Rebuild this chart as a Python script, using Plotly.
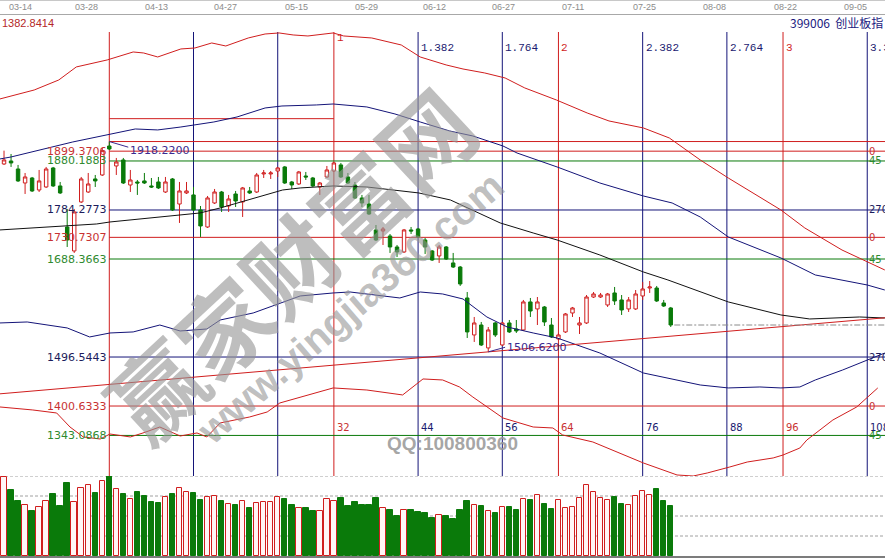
import plotly.graph_objects as go

# ---------------- daily bars (index 0 = swing-high day) ----------------
BAR_INDEX = list(range(-15, 81))
OPEN = [1874.3, 1880.2, 1864.5, 1837.1, 1846.9, 1823.4, 1829.3, 1866.5, 1831.3, 1751.0,
        1704.1, 1800.0, 1819.5, 1845.0, 1852.8, 1909.5, 1870.4, 1882.2, 1833.2, 1839.1,
        1841.1, 1831.3, 1839.1, 1819.5, 1845.0, 1796.0, 1817.6, 1813.7, 1784.3, 1751.0,
        1798.0, 1819.5, 1792.1, 1815.6, 1800.0, 1821.5, 1819.5, 1854.8, 1854.8, 1860.6,
        1868.5, 1839.1, 1835.2, 1850.8, 1846.9, 1829.3, 1848.9, 1860.6, 1872.4, 1848.9,
        1833.2, 1807.8, 1796.0, 1745.2, 1743.2, 1733.4, 1711.9, 1702.1, 1745.2, 1747.1,
        1725.6, 1704.1, 1694.3, 1711.9, 1680.6, 1672.7, 1612.1, 1539.7, 1559.2, 1514.3,
        1563.2, 1520.1, 1563.2, 1551.4, 1549.5, 1604.3, 1590.6, 1594.5, 1559.2, 1531.9,
        1545.6, 1582.7, 1559.2, 1563.2, 1614.0, 1614.0, 1598.4, 1621.9, 1608.2, 1590.6,
        1590.6, 1616.0, 1631.6, 1631.6, 1602.3, 1592.5]
HIGH = [1900.4, 1893.9, 1872.4, 1856.7, 1848.9, 1862.6, 1868.5, 1868.5, 1839.1, 1786.3,
        1786.3, 1848.9, 1856.7, 1852.8, 1905.6, 1918.22, 1886.1, 1886.1, 1862.6, 1843.0,
        1856.7, 1846.9, 1848.9, 1848.9, 1846.9, 1839.1, 1839.1, 1829.3, 1792.1, 1811.7,
        1825.4, 1821.5, 1813.7, 1821.5, 1829.3, 1829.3, 1856.7, 1862.6, 1860.6, 1868.5,
        1870.4, 1841.1, 1860.6, 1858.7, 1848.9, 1839.1, 1870.4, 1878.2, 1876.3, 1856.7,
        1839.1, 1813.7, 1813.7, 1754.9, 1751.0, 1737.3, 1715.8, 1747.1, 1751.0, 1749.1,
        1729.5, 1706.0, 1715.8, 1713.8, 1700.2, 1674.7, 1623.8, 1574.9, 1565.1, 1555.3,
        1565.1, 1565.1, 1569.0, 1569.0, 1608.2, 1612.1, 1614.0, 1596.4, 1572.9, 1543.6,
        1582.7, 1594.5, 1574.9, 1617.9, 1623.8, 1621.9, 1621.9, 1633.6, 1617.9, 1614.0,
        1627.7, 1643.4, 1645.3, 1635.6, 1608.2, 1594.5]
LOW = [1872.4, 1868.5, 1839.1, 1815.6, 1819.5, 1819.5, 1827.4, 1829.3, 1815.6, 1711.9,
       1700.2, 1798.0, 1817.6, 1829.3, 1850.8, 1901.7, 1852.8, 1835.2, 1819.5, 1813.7,
       1835.2, 1827.4, 1825.4, 1817.6, 1782.3, 1758.9, 1815.6, 1782.3, 1731.5, 1749.1,
       1796.0, 1780.4, 1780.4, 1790.2, 1770.6, 1815.6, 1817.6, 1846.9, 1845.0, 1848.9,
       1835.2, 1825.4, 1833.2, 1843.0, 1829.3, 1813.7, 1846.9, 1858.7, 1846.9, 1835.2,
       1805.8, 1790.2, 1774.5, 1723.6, 1715.8, 1700.2, 1692.3, 1700.2, 1737.3, 1729.5,
       1698.2, 1684.5, 1680.6, 1686.4, 1670.8, 1635.6, 1533.8, 1526.0, 1518.1, 1506.62,
       1535.8, 1518.1, 1543.6, 1543.6, 1547.5, 1574.9, 1559.2, 1557.3, 1533.8, 1529.8,
       1543.6, 1574.9, 1541.6, 1561.2, 1612.1, 1612.1, 1594.5, 1598.4, 1578.8, 1584.7,
       1588.6, 1608.2, 1621.9, 1604.3, 1594.5, 1555.3]
CLOSE = [1882.2, 1876.3, 1841.1, 1848.9, 1821.5, 1841.1, 1864.5, 1831.3, 1817.6, 1725.6,
         1780.4, 1845.0, 1835.2, 1841.1, 1900.4, 1903.7, 1878.2, 1837.1, 1843.0, 1837.1,
         1837.1, 1829.3, 1827.4, 1839.1, 1784.3, 1821.5, 1821.5, 1784.3, 1753.0, 1807.8,
         1819.5, 1790.2, 1805.8, 1801.9, 1827.4, 1817.6, 1852.8, 1856.7, 1856.7, 1866.5,
         1837.1, 1833.2, 1858.7, 1848.9, 1831.3, 1837.1, 1862.6, 1876.3, 1848.9, 1837.1,
         1807.8, 1798.0, 1776.5, 1725.6, 1747.1, 1711.9, 1702.1, 1745.2, 1743.2, 1731.5,
         1711.9, 1686.4, 1711.9, 1688.4, 1672.7, 1639.5, 1545.6, 1563.2, 1520.1, 1549.5,
         1539.7, 1563.2, 1545.6, 1547.5, 1604.3, 1586.6, 1604.3, 1565.1, 1535.8, 1539.7,
         1580.8, 1592.5, 1563.2, 1614.0, 1619.9, 1617.9, 1619.9, 1606.2, 1588.6, 1608.2,
         1619.9, 1629.7, 1633.6, 1606.2, 1596.4, 1559.2]
VOLUME = [79, 66, 55, 51, 45, 49, 55, 62, 50, 73, 54, 68, 71, 63, 75, 80,
          67, 62, 57, 64, 60, 54, 53, 59, 62, 68, 64, 63, 56, 59, 60, 55,
          52, 51, 55, 48, 53, 54, 54, 59, 57, 51, 48, 48, 45, 45, 57, 55,
          58, 50, 54, 51, 51, 58, 48, 46, 40, 46, 46, 44, 43, 38, 41, 40,
          37, 46, 55, 51, 50, 45, 43, 49, 49, 46, 57, 56, 61, 52, 47, 56,
          48, 49, 58, 71, 64, 58, 56, 59, 52, 51, 60, 65, 61, 67, 55, 50]

SWING_HIGH = (0, 1918.22)
SWING_LOW = (54, 1506.62)
BOX_TOP = 1963.0

# ---------------- indicator curves (bar index, price) ----------------
UPPER_RED_X = [-15.6, -10.7, -7.2, -4.7, -0.3, 3.4, 4.9, 6.9, 10.2, 12.2, 14.6, 16.6, 19.8,
               22.2, 24.2, 26.2, 28.3, 31.9, 33.4, 37.4, 41.6, 44.3, 48.0, 50.4, 53.5, 56.4,
               59.2, 63.7, 68.1, 71.2, 76.1, 79.8, 84.2, 88.2, 95.7, 99.1, 104.4, 108.0, 110.5]
UPPER_RED_Y = [2001.5, 2019.1, 2038.7, 2064.2, 2077.9, 2093.5, 2091.5, 2083.7, 2099.4, 2101.3,
               2111.1, 2105.2, 2120.9, 2128.7, 2130.7, 2126.8, 2124.8, 2130.7, 2124.8, 2120.9,
               2107.2, 2083.7, 2068.1, 2060.2, 2052.4, 2042.6, 2023.1, 1999.6, 1974.1, 1958.5,
               1944.8, 1925.2, 1882.2, 1846.9, 1784.3, 1749.1, 1706.0, 1682.5, 1666.9]

UPPER_BLUE_X = [-15.6, -14.0, -5.2, -0.3, 3.7, 6.9, 10.2, 14.9, 18.2, 22.2, 24.6, 29.5, 31.9,
                36.7, 40.7, 44.3, 48.5, 51.8, 56.1, 58.1, 63.8, 69.9, 76.1, 80.2, 84.2, 88.2,
                95.7, 100.6, 104.1, 108.0, 110.5]
UPPER_BLUE_Y = [1884.1, 1888.0, 1917.4, 1931.1, 1942.8, 1940.9, 1946.7, 1956.5, 1966.3, 1983.9,
                1987.8, 1989.8, 1991.7, 1985.9, 1972.2, 1956.5, 1938.9, 1929.1, 1909.5, 1895.8,
                1868.5, 1837.1, 1811.7, 1798.0, 1770.6, 1731.5, 1690.4, 1657.1, 1647.3, 1637.5,
                1627.7]

MID_BLACK_X = [-15.6, -1.8, 0.1, 12.9, 15.8, 24.7, 27.2, 31.9, 36.7, 44.1, 48.6, 51.8, 55.7,
               60.4, 63.8, 69.9, 76.1, 79.6, 88.2, 95.7, 99.8, 106.9, 110.5]
MID_BLACK_Y = [1745.2, 1756.9, 1760.8, 1778.4, 1788.2, 1823.4, 1827.4, 1831.3, 1829.3, 1817.6,
               1803.9, 1784.3, 1758.9, 1739.3, 1725.6, 1696.2, 1663.0, 1647.3, 1604.3, 1578.8,
               1571.0, 1574.9, 1572.9]

LOWER_BLUE_X = [-15.6, -11.7, -6.0, -2.8, 0.1, 3.4, 7.2, 10.1, 13.9, 15.8, 20.5, 24.3, 27.2,
                31.9, 34.3, 41.4, 44.3, 47.5, 50.4, 53.8, 56.7, 60.4, 63.8, 69.9, 76.1, 84.2,
                88.2, 92.7, 95.7, 98.4, 100.6, 104.5, 108.0, 110.5]
LOWER_BLUE_Y = [1563.2, 1565.1, 1553.4, 1535.8, 1543.6, 1545.6, 1559.2, 1547.5, 1551.4, 1569.0,
                1582.7, 1602.3, 1616.0, 1621.9, 1623.8, 1612.1, 1623.8, 1619.9, 1610.1, 1574.9,
                1555.3, 1543.6, 1533.8, 1504.4, 1465.3, 1441.8, 1436.0, 1437.9, 1436.0, 1437.9,
                1451.6, 1471.2, 1490.7, 1504.4]

LOWER_RED_X = [-15.6, -10.9, -7.5, -5.6, -3.7, -1.3, 0.1, 3.0, 4.8, 7.2, 10.1, 12.5, 13.9,
               15.8, 20.0, 22.5, 24.3, 27.2, 31.9, 36.7, 41.8, 44.7, 47.5, 49.9, 51.8, 56.1,
               60.4, 63.2, 64.6, 68.9, 72.8, 76.1, 78.9, 80.9, 83.2, 85.2, 88.4, 90.9, 94.6,
               96.0, 98.4, 99.4, 103.1, 106.5, 109.5]
LOWER_RED_Y = [1398.8, 1392.9, 1387.0, 1359.6, 1340.1, 1336.1, 1345.9, 1340.1, 1347.9, 1359.6,
               1342.0, 1347.9, 1340.1, 1367.5, 1379.2, 1389.0, 1406.6, 1418.3, 1436.0, 1432.0,
               1422.3, 1453.6, 1451.6, 1437.9, 1418.3, 1377.2, 1359.6, 1357.7, 1344.0, 1330.3,
               1308.7, 1289.2, 1275.5, 1265.7, 1263.7, 1269.6, 1281.3, 1291.1, 1299.0, 1304.8,
               1318.5, 1334.2, 1373.3, 1398.8, 1436.0]

TREND_SLOPE = 1.18  # price per bar, rising support through the swing low

# ---------------- horizontal angle levels ----------------
LEVELS = [1899.3706, 1880.1883, 1784.2773, 1730.7307, 1688.3663, 1496.5443, 1400.6333, 1343.0868]
LEVEL_ANGLES = ["0", "45", "270", "0", "45", "270", "0", "45"]

# ---------------- time-cycle verticals ----------------
CYCLE_BARS = [0, 12, 24, 32, 44, 56, 64, 76, 88, 96, 108]
CYCLE_BASE = 32
CYCLE_RATIOS = {32: "1", 44: "1.382", 56: "1.764", 64: "2", 76: "2.382", 88: "2.764",
                96: "3", 108: "3.382"}

DATE_LABELS = ["03-14", "03-28", "04-13", "04-27", "05-15", "05-29", "06-12", "06-27",
               "07-11", "07-25", "08-08", "08-22", "09-05"]
DATE_POS = [-12.7, -3.3, 6.7, 16.6, 26.7, 36.6, 46.4, 56.2, 66.1, 76.3, 86.3, 96.3, 106.3]

TITLE_CODE = "399006  创业板指"
CORNER_VALUE = "1382.8414"

# ---------------- geometry / style ----------------
W, H = 885, 558
X_LEFT, X_RIGHT = -15.574, 110.53
P_LOW, P_HIGH = 1263.7, 2136.5
VOL_MAX = 80

RED = "#d01e1e"
GREEN = "#0a7a0a"
NAVY = "#141478"
LABEL_RED = "#c83232"
LABEL_GREEN = "#2f8a2f"
LABEL_NAVY = "#1c1c5c"


def py(pixel_y):
    """paper y coordinate from a pixel row (top = 0)."""
    return 1 - pixel_y / H


ANGLE_COLOR = {"0": (RED, LABEL_RED), "45": (GREEN, LABEL_GREEN), "270": (NAVY, LABEL_NAVY)}

fig = go.Figure()

# indicator curves
for xs, ys, col in [(UPPER_RED_X, UPPER_RED_Y, RED),
                    (UPPER_BLUE_X, UPPER_BLUE_Y, NAVY),
                    (MID_BLACK_X, MID_BLACK_Y, "#111111"),
                    (LOWER_BLUE_X, LOWER_BLUE_Y, NAVY),
                    (LOWER_RED_X, LOWER_RED_Y, RED)]:
    fig.add_trace(go.Scatter(x=xs, y=ys, mode="lines", line=dict(color=col, width=1),
                             hoverinfo="skip"))

# rising support line through the swing low
sx, sy = SWING_LOW
fig.add_trace(go.Scatter(x=[X_LEFT, X_RIGHT],
                         y=[sy + (X_LEFT - sx) * TREND_SLOPE, sy + (X_RIGHT - sx) * TREND_SLOPE],
                         mode="lines", line=dict(color=RED, width=1), hoverinfo="skip"))

# last close reference line
fig.add_trace(go.Scatter(x=[BAR_INDEX[-1] + 0.5, X_RIGHT], y=[CLOSE[-1], CLOSE[-1]], mode="lines",
                         line=dict(color="#8a8a8a", width=1, dash="6px,2px,2px,2px"),
                         hoverinfo="skip"))

# candles
fig.add_trace(go.Candlestick(
    x=BAR_INDEX, open=OPEN, high=HIGH, low=LOW, close=CLOSE,
    increasing=dict(line=dict(color=RED, width=1), fillcolor="white"),
    decreasing=dict(line=dict(color=GREEN, width=1), fillcolor=GREEN),
    whiskerwidth=0, hoverinfo="skip"))

# volume
up = [c >= o for o, c in zip(OPEN, CLOSE)]
fig.add_trace(go.Bar(
    x=BAR_INDEX, y=VOLUME, xaxis="x", yaxis="y2", width=0.78,
    marker=dict(color=["#fff6f6" if u else GREEN for u in up],
                line=dict(color=[RED if u else GREEN for u in up], width=1)),
    hoverinfo="skip"))

shapes = []
ann = []

# header strip
shapes.append(dict(type="line", xref="paper", yref="paper", x0=0, x1=1, y0=py(0.5), y1=py(0.5),
                   line=dict(color="#c8c8c8", width=1)))
shapes.append(dict(type="line", xref="paper", yref="paper", x0=0, x1=1, y0=py(14.5), y1=py(14.5),
                   line=dict(color="#a8a8a8", width=1)))
for lab, pos in zip(DATE_LABELS, DATE_POS):
    ann.append(dict(x=pos, y=py(7.5), xref="x", yref="paper", text=lab, showarrow=False,
                    font=dict(family="Liberation Sans, Arial", size=9, color="#8c8c8c"),
                    xanchor="center", yanchor="middle"))
ann.append(dict(x=0, y=py(23), xref="paper", yref="paper", text=CORNER_VALUE, showarrow=False,
                font=dict(family="Liberation Sans, Arial", size=11, color="#b42828"),
                xanchor="left", yanchor="middle"))
ann.append(dict(x=1, y=py(22), xref="paper", yref="paper", text=TITLE_CODE, showarrow=False,
                font=dict(family="Noto Sans CJK SC", size=12, color="#1a1a80"),
                xanchor="right", yanchor="middle"))

# time-cycle verticals
for b in CYCLE_BARS:
    col = RED if b % CYCLE_BASE == 0 else NAVY
    shapes.append(dict(type="line", xref="x", yref="paper", x0=b, x1=b, y0=py(476), y1=py(32),
                       line=dict(color=col, width=1), layer="below"))
    if b in CYCLE_RATIOS:
        ann.append(dict(x=b, y=py(38 if b == CYCLE_BASE else 48), xref="x", yref="paper",
                        text=CYCLE_RATIOS[b], showarrow=False, xshift=1,
                        font=dict(family="Liberation Mono, DejaVu Sans Mono", size=11,
                                  color=col if col == RED else "#1a1a70"),
                        xanchor="left", yanchor="middle"))
        ann.append(dict(x=b, y=py(427), xref="x", yref="paper", text=str(b), showarrow=False,
                        xshift=1, font=dict(family="DejaVu Sans", size=10,
                                            color=LABEL_RED if col == RED else "#1a1a70"),
                        xanchor="left", yanchor="middle"))

# swing-high box
shapes.append(dict(type="line", xref="x", yref="y", x0=0, x1=CYCLE_BASE, y0=BOX_TOP, y1=BOX_TOP,
                   line=dict(color=RED, width=1), layer="below"))
shapes.append(dict(type="line", xref="x", yref="y", x0=SWING_HIGH[0], x1=X_RIGHT,
                   y0=SWING_HIGH[1], y1=SWING_HIGH[1], line=dict(color=RED, width=1),
                   layer="below"))

# angle levels
for lvl, ang in zip(LEVELS, LEVEL_ANGLES):
    lc, tc = ANGLE_COLOR[ang]
    shapes.append(dict(type="line", xref="x", yref="y", x0=0, x1=X_RIGHT, y0=lvl, y1=lvl,
                       line=dict(color=lc, width=1), layer="below"))
    ann.append(dict(x=0, y=lvl, xref="x", yref="y", text=f"{lvl:.4f}", showarrow=False,
                    xanchor="right", yanchor="middle",
                    font=dict(family="DejaVu Sans", size=11, color=tc)))
    ann.append(dict(x=CYCLE_BARS[-1], y=lvl, xref="x", yref="y", text=ang, showarrow=False,
                    xanchor="left", yanchor="middle",
                    font=dict(family="DejaVu Sans", size=10, color=tc)))

# extreme value tags
for (bx, val), dx, dy in [(SWING_HIGH, 2.7, -11.0), (SWING_LOW, 2.4, 9.0)]:
    shapes.append(dict(type="line", xref="x", yref="y", x0=bx, y0=val, x1=bx + dx, y1=val + dy,
                       line=dict(color="#3a2a90", width=1)))
    ann.append(dict(x=bx + dx, y=val + dy, xref="x", yref="y", text=f"{val:.4f}",
                    showarrow=False, xanchor="left", yanchor="middle",
                    yshift=-3 if dy < 0 else 0,
                    font=dict(family="DejaVu Sans", size=11, color="#3a2a90")))

# volume grid
for v in [20, 40, 60, 80]:
    shapes.append(dict(type="line", xref="paper", yref="y2", x0=0, x1=1, y0=v, y1=v,
                       line=dict(color="#a0a0a0", width=1, dash="3px,2px"), layer="below"))
shapes.append(dict(type="rect", xref="paper", yref="paper", x0=0, x1=1, y0=0, y1=py(556),
                   fillcolor="#7c7c7c", line=dict(width=0)))

# site watermark
WM = "rgba(150,150,150,0.62)"
for text, cx, cy, ang, fam, size, col in [
        ("<b>赢家财富网</b>", 288, 262, -43, "Noto Sans CJK SC", 92, WM),
        ("<b>www.yingjia360.com</b>", 350, 308, -41, "Liberation Sans, Arial", 40, WM),
        ("<b>QQ:100800360</b>", 452, 443, 0, "Liberation Sans, Arial", 19,
         "rgba(150,150,150,0.85)")]:
    ann.append(dict(x=cx / W, y=py(cy), xref="paper", yref="paper", text=text, showarrow=False,
                    textangle=ang, xanchor="center", yanchor="middle",
                    font=dict(family=fam, size=size, color=col)))

fig.update_layout(
    width=W, height=H, margin=dict(l=0, r=0, t=0, b=0),
    paper_bgcolor="white", plot_bgcolor="white", showlegend=False,
    xaxis=dict(range=[X_LEFT, X_RIGHT], domain=[0, 1], visible=False, anchor="y",
               rangeslider=dict(visible=False), fixedrange=True),
    yaxis=dict(range=[P_LOW, P_HIGH], domain=[py(476), py(30)], visible=False, fixedrange=True),
    yaxis2=dict(range=[0, VOL_MAX], domain=[py(556), py(476)], visible=False, anchor="x",
                fixedrange=True),
    bargap=0, shapes=shapes, annotations=ann,
)

fig.write_html("out.html")
